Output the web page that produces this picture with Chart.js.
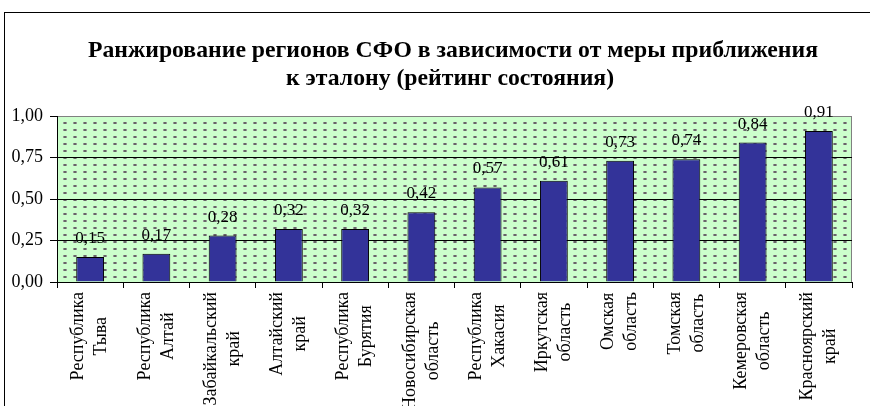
<!DOCTYPE html>
<html>
<head>
<meta charset="utf-8">
<script src="https://cdn.jsdelivr.net/npm/chart.js@4/dist/chart.umd.min.js"></script>
<style>
  body { margin: 0; background: #fff; }
  canvas { display: block; }
</style>
</head>
<body>
<canvas id="chartCanvas" width="870" height="406"></canvas>
<script>
// data
const categories = [
    ['Республика', 'Тыва'],
    ['Республика', 'Алтай'],
    ['Забайкальский', 'край'],
    ['Алтайский', 'край'],
    ['Республика', 'Бурятия'],
    ['Новосибирская', 'область'],
    ['Республика', 'Хакасия'],
    ['Иркутская', 'область'],
    ['Омская', 'область'],
    ['Томская', 'область'],
    ['Кемеровская', 'область'],
    ['Красноярский', 'край']
];
const values = [0.15, 0.17, 0.28, 0.32, 0.32, 0.42, 0.57, 0.61, 0.73, 0.74, 0.84, 0.91];
const titleLines = ['Ранжирование регионов СФО в зависимости от меры приближения', 'к эталону (рейтинг состояния)'];

const serif = '"Liberation Serif", "Times New Roman", serif';

function fmt(v) {
    return v.toFixed(2).replace('.', ',');
}

// dotted green fill of the plot area
function makePattern(ctx) {
    const c = document.createElement('canvas');
    c.width = 10; c.height = 7;
    const p = c.getContext('2d');
    p.fillStyle = '#ccffcc';
    p.fillRect(0, 0, 10, 7);
    p.fillStyle = '#666';
    p.fillRect(4, 3, 2, 2);
    p.fillStyle = '#999';
    p.fillRect(3, 3, 1, 2); p.fillRect(6, 3, 1, 2);
    return ctx.createPattern(c, 'repeat');
}

const backgroundPlugin = {
    id: 'background',
    beforeDraw(chart) {
        const ctx = chart.ctx;
        const a = chart.chartArea;
        ctx.save();
        ctx.fillStyle = '#fff';
        ctx.fillRect(0, 0, chart.width, chart.height);
        // outer frame
        ctx.strokeStyle = '#000';
        ctx.lineWidth = 1;
        ctx.strokeRect(4.5, 12.5, chart.width + 20, chart.height + 20);
        // plot area
        ctx.fillStyle = makePattern(ctx);
        ctx.fillRect(a.left, a.top, a.right - a.left, a.bottom - a.top);
        ctx.strokeStyle = '#808080';
        ctx.beginPath();
        ctx.moveTo(a.right - 0.5, a.top);
        ctx.lineTo(a.right - 0.5, a.bottom);
        ctx.stroke();
        // title
        ctx.fillStyle = '#000';
        ctx.font = 'bold 24px ' + serif;
        ctx.textAlign = 'center';
        ctx.textBaseline = 'alphabetic';
        const sx = 730 / ctx.measureText(titleLines[0]).width;
        const pos = [[453, 57], [450, 85]];
        titleLines.forEach((t, i) => {
            ctx.save();
            ctx.translate(pos[i][0], pos[i][1]);
            ctx.scale(sx, 1);
            ctx.fillText(t, 0, 0);
            ctx.restore();
        });
        ctx.restore();
    }
};

const labelsPlugin = {
    id: 'labels',
    afterDatasetsDraw(chart) {
        const ctx = chart.ctx;
        const meta = chart.getDatasetMeta(0);
        const xScale = chart.scales.x;
        ctx.save();
        ctx.fillStyle = '#000';
        // value labels above bars
        ctx.font = '17px ' + serif;
        ctx.textAlign = 'center';
        ctx.textBaseline = 'alphabetic';
        meta.data.forEach((bar, i) => {
            ctx.fillText(fmt(values[i]), bar.x, bar.y - 14);
        });
        // rotated category labels, lines centred in a block hanging from the axis
        ctx.font = '18px ' + serif;
        const top = xScale.top + 10;
        categories.forEach((lines, i) => {
            const cx = xScale.getPixelForValue(i);
            let maxW = 0;
            lines.forEach(l => { maxW = Math.max(maxW, ctx.measureText(l).width); });
            lines.forEach((l, j) => {
                const lx = cx + (j - (lines.length - 1) / 2) * 23;
                ctx.save();
                ctx.translate(lx, top + maxW / 2);
                ctx.rotate(-Math.PI / 2);
                ctx.textAlign = 'center';
                ctx.textBaseline = 'middle';
                ctx.fillText(l, 0, 0);
                ctx.restore();
            });
        });
        ctx.restore();
    }
};

const data = {
    labels: categories,
    datasets: [{
        label: 'рейтинг',
        data: values,
        backgroundColor: '#333399',
        borderColor: '#000',
        borderWidth: 1,
        barPercentage: 0.42,
        categoryPercentage: 1
    }]
};

const config = {
    type: 'bar',
    data: data,
    plugins: [backgroundPlugin, labelsPlugin],
    options: {
        responsive: false,
        animation: false,
        layout: {
            padding: { left: 5, right: 18, top: 116, bottom: 0 }
        },
        plugins: {
            legend: { display: false },
            title: { display: false },
            tooltip: { enabled: false }
        },
        scales: {
            x: {
                grid: {
                    offset: true,
                    drawOnChartArea: false,
                    color: '#000',
                    tickLength: 6
                },
                border: { color: '#000' },
                ticks: { display: false },
                afterFit(scale) { scale.height = 124; }
            },
            y: {
                min: 0,
                max: 1,
                grid: {
                    color: (c) => (c.tick && c.tick.value === 1 ? '#808080' : '#000'),
                    tickColor: '#000',
                    tickLength: 7
                },
                border: { color: '#000' },
                ticks: {
                    stepSize: 0.25,
                    padding: 7,
                    color: '#000',
                    font: { family: serif, size: 18 },
                    callback: (v) => fmt(v)
                },
                afterFit(scale) { scale.width = 52; }
            }
        }
    }
};

var myChart = new Chart(document.getElementById('chartCanvas'), config);
</script>
</body>
</html>
